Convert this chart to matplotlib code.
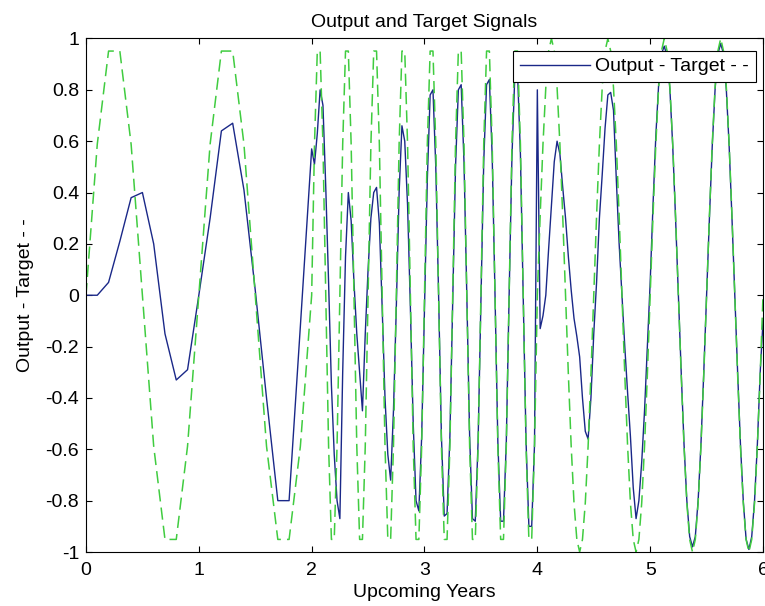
import numpy as np
import matplotlib
matplotlib.use('Agg')
import matplotlib.pyplot as plt

# sample times (slow part, fast part, medium part)
time_slow = [0.0, 0.1, 0.2, 0.3, 0.4, 0.5, 0.6, 0.7, 0.8, 0.9, 1.0,
             1.1, 1.2, 1.3, 1.4, 1.5, 1.6, 1.7, 1.8, 1.9, 2.0]

time_fast = [2.025, 2.05, 2.075, 2.1, 2.125, 2.15, 2.175, 2.2, 2.225, 2.25,
             2.275, 2.3, 2.325, 2.35, 2.375, 2.4, 2.425, 2.45, 2.475, 2.5,
             2.525, 2.55, 2.575, 2.6, 2.625, 2.65, 2.675, 2.7, 2.725, 2.75,
             2.775, 2.8, 2.825, 2.85, 2.875, 2.9, 2.925, 2.95, 2.975, 3.0,
             3.025, 3.05, 3.075, 3.1, 3.125, 3.15, 3.175, 3.2, 3.225, 3.25,
             3.275, 3.3, 3.325, 3.35, 3.375, 3.4, 3.425, 3.45, 3.475, 3.5,
             3.525, 3.55, 3.575, 3.6, 3.625, 3.65, 3.675, 3.7, 3.725, 3.75,
             3.775, 3.8, 3.825, 3.85, 3.875, 3.9, 3.925, 3.95, 3.975, 4.0]

time_mid = [4.025, 4.05, 4.075, 4.1, 4.125, 4.15, 4.175, 4.2, 4.225, 4.25,
            4.275, 4.3, 4.325, 4.35, 4.375, 4.4, 4.425, 4.45, 4.475, 4.5,
            4.525, 4.55, 4.575, 4.6, 4.625, 4.65, 4.675, 4.7, 4.725, 4.75,
            4.775, 4.8, 4.825, 4.85, 4.875, 4.9, 4.925, 4.95, 4.975, 5.0,
            5.025, 5.05, 5.075, 5.1, 5.125, 5.15, 5.175, 5.2, 5.225, 5.25,
            5.275, 5.3, 5.325, 5.35, 5.375, 5.4, 5.425, 5.45, 5.475, 5.5,
            5.525, 5.55, 5.575, 5.6, 5.625, 5.65, 5.675, 5.7, 5.725, 5.75,
            5.775, 5.8, 5.825, 5.85, 5.875, 5.9, 5.925, 5.95, 5.975, 6.0]

# target signal
target_slow = [0.0, 0.588, 0.951, 0.951, 0.588, 0.0, -0.588, -0.951, -0.951, -0.588, 0.0,
               0.588, 0.951, 0.951, 0.588, 0.0, -0.588, -0.951, -0.951, -0.588, 0.0]

target_fast = [0.588, 0.951, 0.951, 0.588, 0.0, -0.588, -0.951, -0.951, -0.588, 0.0,
               0.588, 0.951, 0.951, 0.588, 0.0, -0.588, -0.951, -0.951, -0.588, 0.0,
               0.588, 0.951, 0.951, 0.588, 0.0, -0.588, -0.951, -0.951, -0.588, 0.0,
               0.588, 0.951, 0.951, 0.588, 0.0, -0.588, -0.951, -0.951, -0.588, 0.0,
               0.588, 0.951, 0.951, 0.588, 0.0, -0.588, -0.951, -0.951, -0.588, 0.0,
               0.588, 0.951, 0.951, 0.588, 0.0, -0.588, -0.951, -0.951, -0.588, 0.0,
               0.588, 0.951, 0.951, 0.588, 0.0, -0.588, -0.951, -0.951, -0.588, 0.0,
               0.588, 0.951, 0.951, 0.588, 0.0, -0.588, -0.951, -0.951, -0.588, 0.0]

target_mid = [0.309, 0.588, 0.809, 0.951, 1.0, 0.951, 0.809, 0.588, 0.309, 0.0,
              -0.309, -0.588, -0.809, -0.951, -1.0, -0.951, -0.809, -0.588, -0.309, 0.0,
              0.309, 0.588, 0.809, 0.951, 1.0, 0.951, 0.809, 0.588, 0.309, 0.0,
              -0.309, -0.588, -0.809, -0.951, -1.0, -0.951, -0.809, -0.588, -0.309, 0.0,
              0.309, 0.588, 0.809, 0.951, 1.0, 0.951, 0.809, 0.588, 0.309, 0.0,
              -0.309, -0.588, -0.809, -0.951, -1.0, -0.951, -0.809, -0.588, -0.309, 0.0,
              0.309, 0.588, 0.809, 0.951, 1.0, 0.951, 0.809, 0.588, 0.309, 0.0,
              -0.309, -0.588, -0.809, -0.951, -1.0, -0.951, -0.809, -0.588, -0.309, 0.0]

# network output
output_slow = [0.0, 0.0, 0.05, 0.21, 0.38, 0.40, 0.20, -0.15, -0.33, -0.29, 0.0,
               0.30, 0.64, 0.67, 0.41, 0.02, -0.40, -0.80, -0.80, -0.12, 0.57]

output_fast = [0.51, 0.63, 0.80, 0.74, 0.42, 0.05, -0.35, -0.62, -0.80, -0.87,
               -0.30, 0.15, 0.40, 0.29, 0.05, -0.15, -0.30, -0.45, -0.15, 0.10,
               0.30, 0.40, 0.42, 0.28, -0.05, -0.40, -0.62, -0.72, -0.45, -0.05,
               0.40, 0.66, 0.60, 0.35, -0.05, -0.50, -0.80, -0.84, -0.55, -0.05,
               0.45, 0.78, 0.80, 0.50, 0.0, -0.55, -0.86, -0.85, -0.55, -0.02,
               0.50, 0.80, 0.82, 0.52, 0.0, -0.55, -0.87, -0.88, -0.57, -0.02,
               0.52, 0.82, 0.84, 0.54, 0.0, -0.57, -0.88, -0.88, -0.57, 0.0,
               0.54, 0.85, 0.86, 0.55, 0.0, -0.57, -0.90, -0.90, -0.58, 0.80]

output_mid = [-0.13, -0.08, 0.0, 0.18, 0.35, 0.52, 0.60, 0.55, 0.42, 0.30,
              0.15, 0.02, -0.09, -0.16, -0.24, -0.40, -0.53, -0.56, -0.40, -0.15,
              0.05, 0.30, 0.47, 0.65, 0.78, 0.79, 0.72, 0.45, 0.20, 0.0,
              -0.20, -0.38, -0.55, -0.75, -0.87, -0.80, -0.65, -0.45, -0.20, 0.05,
              0.35, 0.62, 0.82, 0.94, 0.97, 0.93, 0.80, 0.58, 0.30, 0.0,
              -0.30, -0.58, -0.80, -0.94, -0.98, -0.94, -0.80, -0.58, -0.30, 0.0,
              0.30, 0.58, 0.80, 0.94, 0.98, 0.94, 0.80, 0.58, 0.30, 0.0,
              -0.30, -0.58, -0.80, -0.95, -0.99, -0.94, -0.80, -0.58, -0.30, -0.10]

x_ticks = [0, 1, 2, 3, 4, 5, 6]
y_ticks = [-1, -0.8, -0.6, -0.4, -0.2, 0, 0.2, 0.4, 0.6, 0.8, 1]
y_tick_labels = ['-1', '-0.8', '-0.6', '-0.4', '-0.2', '0', '0.2', '0.4', '0.6', '0.8', '1']

time = np.concatenate([time_slow, time_fast, time_mid])
output = np.concatenate([output_slow, output_fast, output_mid])
target = np.concatenate([target_slow, target_fast, target_mid])

plt.rcParams['font.family'] = ['Liberation Sans', 'DejaVu Sans']
plt.rcParams['font.size'] = 14

fig = plt.figure(figsize=(7.65, 6.06), dpi=100)
ax = fig.add_axes([0.1124, 0.0891, 0.885, 0.8474])

ax.plot(time, output, color='#1a2888', lw=1.0, label='Output - Target - -')
ax.plot(time, target, color='#40cc40', lw=1.1, dashes=(8, 4))

ax.set_xlim(0, 6)
ax.set_ylim(-1, 1)
ax.set_xticks(x_ticks)
ax.set_xticklabels([str(v) for v in x_ticks])
ax.set_yticks(y_ticks)
ax.set_yticklabels(y_tick_labels)
ax.tick_params(direction='in', top=True, right=True, length=4.5, width=0.8)
ax.tick_params(axis='x', pad=7)
ax.tick_params(axis='y', pad=5)
for s in ax.spines.values():
    s.set_linewidth(0.8)

ax.set_title('Output and Target Signals', fontsize=14, pad=8)
ax.set_xlabel('Upcoming Years', labelpad=4)
ax.set_ylabel('Output - Target - -', labelpad=8)

leg = ax.legend(loc='upper right', bbox_to_anchor=(756 / 765, 1 - 51 / 606),
                bbox_transform=fig.transFigure, borderaxespad=0,
                fancybox=False, framealpha=1, edgecolor='black',
                handlelength=3.6, handletextpad=0.3, borderpad=0.35)
leg.get_frame().set_linewidth(0.8)

fig.savefig('out.png', dpi=100)
